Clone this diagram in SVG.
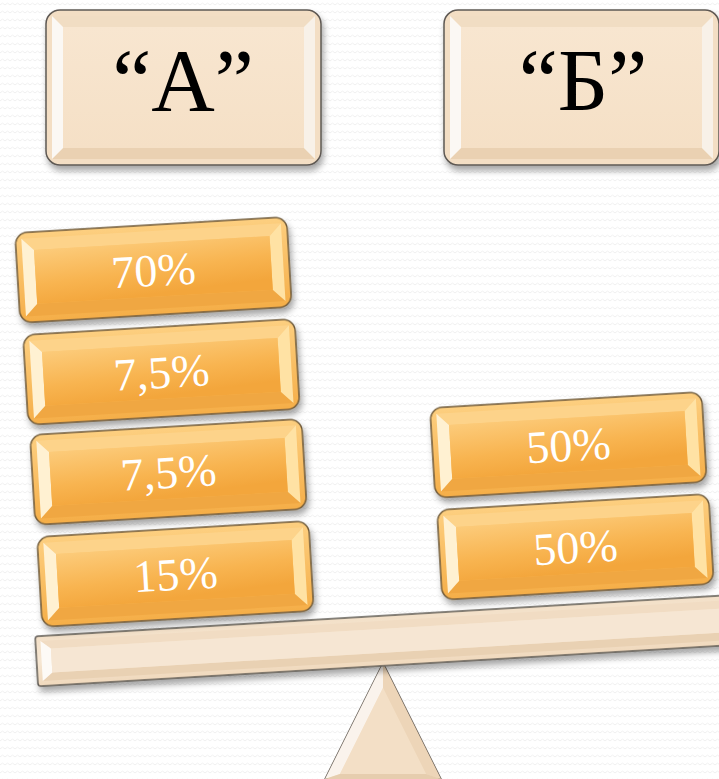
<svg xmlns="http://www.w3.org/2000/svg" xmlns:xlink="http://www.w3.org/1999/xlink" width="719" height="779" viewBox="0 0 719 779">
<style>
.pct{font-family:"Liberation Serif","DejaVu Serif",serif;font-size:46px;fill:#ffffff;text-anchor:middle}
.hdr{font-family:"Liberation Serif","Times New Roman",serif;font-size:88px;fill:#000000;text-anchor:middle}
.edge{stroke:#6d5838;stroke-width:1.5}
.bedge{stroke:#5e5953;stroke-width:1.5}
</style>
<defs>
<pattern id="bgp" width="10" height="8" patternUnits="userSpaceOnUse">
<path d="M0 5 L2.5 3 L5 5 L7.5 3 L10 5" fill="none" stroke="#ececec" stroke-width="0.8"/>
</pattern>
<filter id="sh" x="-10%" y="-20%" width="125%" height="150%">
<feDropShadow dx="2" dy="5" stdDeviation="3" flood-color="#000" flood-opacity="0.35"/>
</filter>
<linearGradient id="goldOuter" x1="0" y1="0" x2="0" y2="1">
<stop offset="0" stop-color="#fdcf80"/><stop offset="1" stop-color="#f5ae48"/>
</linearGradient>
<linearGradient id="goldFace" x1="0" y1="0" x2="0.3" y2="1">
<stop offset="0" stop-color="#fccb7a"/><stop offset="0.6" stop-color="#f8b450"/><stop offset="1" stop-color="#f3a63c"/>
</linearGradient>
<linearGradient id="beigeFace" x1="0" y1="0" x2="0" y2="1">
<stop offset="0" stop-color="#f8e6d0"/><stop offset="1" stop-color="#f5e0c6"/>
</linearGradient>
<linearGradient id="beamFace" x1="0" y1="0" x2="0" y2="1">
<stop offset="0" stop-color="#f3e0c8"/><stop offset="0.5" stop-color="#f6e6d2"/><stop offset="1" stop-color="#f0d9bd"/>
</linearGradient>
<g id="goldBlock">
<rect x="-136" y="-45" width="272" height="90" rx="12" fill="url(#goldOuter)" class="edge" filter="url(#sh)"/>
<polygon points="-130,-39 130,-39 118,-27 -118,-27" fill="#fdd38a"/>
<polygon points="-130,39 130,39 118,27 -118,27" fill="#f0a742"/>
<polygon points="-130,-39 -118,-27 -118,27 -130,39" fill="#fff1d2"/>
<polygon points="130,-39 118,-27 118,27 130,39" fill="#ffe2a4"/>
<rect x="-118" y="-27" width="236" height="54" fill="url(#goldFace)"/>
</g>
<g id="beigeBox">
<rect x="0" y="0" width="275" height="155" rx="14" fill="#f3dec4" class="bedge" filter="url(#sh)"/>
<polygon points="6,6 269,6 258,17 17,17" fill="#f1ddc3"/>
<polygon points="6,149 269,149 258,138 17,138" fill="#ead1b2"/>
<polygon points="6,6 17,17 17,138 6,149" fill="#fbf8f4"/>
<polygon points="269,6 258,17 258,138 269,149" fill="#f8f1e8"/>
<rect x="17" y="17" width="241" height="121" fill="url(#beigeFace)"/>
</g>
</defs>
<rect width="719" height="779" fill="#ffffff"/>
<rect width="719" height="779" fill="url(#bgp)"/>

<g id="boxA" transform="translate(46,10)">
<use xlink:href="#beigeBox"/>
<text class="hdr" x="137" y="100">“A”</text>
</g>
<g id="boxB" transform="translate(444,10)">
<use xlink:href="#beigeBox"/>
<text class="hdr" x="139" y="100">“Б”</text>
</g>

<g id="fulcrum">
<polygon points="383,663 325,779 441,779" fill="#f2dcc2" stroke="#6a625a" stroke-width="1.5"/>
<polygon points="383,663 325,779 340,774 383,688" fill="#faf3ec"/>
<polygon points="383,663 441,779 426,774 383,688" fill="#edd5b8"/>
<polygon points="325,779 441,779 426,774 340,774" fill="#e6cdae"/>
<polygon points="383,688 340,774 426,774" fill="#f3dfc6"/>
</g>

<g id="beam" transform="translate(396,640) rotate(-3.4)">
<rect x="-360" y="-25" width="720" height="50" rx="3" fill="url(#beamFace)" class="bedge" filter="url(#sh)"/>
<polygon points="-355,-20 355,-20 345,-12 -345,-12" fill="#f1dcc3"/>
<polygon points="-355,20 355,20 345,12 -345,12" fill="#e9d1b3"/>
<polygon points="-355,-20 -345,-12 -345,12 -355,20" fill="#fdfaf6"/>
<rect x="-345" y="-12" width="690" height="24" fill="#f6e6d3"/>
</g>

<g id="w70" transform="translate(153.4,269.9) rotate(-3.4)">
<use xlink:href="#goldBlock"/>
<text class="pct" x="0" y="16">70%</text>
</g>
<g id="w75a" transform="translate(161.4,371.9) rotate(-3.4)">
<use xlink:href="#goldBlock"/>
<text class="pct" x="0" y="16">7,5%</text>
</g>
<g id="w75b" transform="translate(168.4,471.9) rotate(-3.4)">
<use xlink:href="#goldBlock"/>
<text class="pct" x="0" y="16">7,5%</text>
</g>
<g id="w15" transform="translate(175.4,573.9) rotate(-3.4)">
<use xlink:href="#goldBlock"/>
<text class="pct" x="0" y="16">15%</text>
</g>
<g id="w50a" transform="translate(568.4,444.9) rotate(-3.4)">
<use xlink:href="#goldBlock"/>
<text class="pct" x="0" y="16">50%</text>
</g>
<g id="w50b" transform="translate(575.4,546.9) rotate(-3.4)">
<use xlink:href="#goldBlock"/>
<text class="pct" x="0" y="16">50%</text>
</g>
<g id="connectors"/>
</svg>
